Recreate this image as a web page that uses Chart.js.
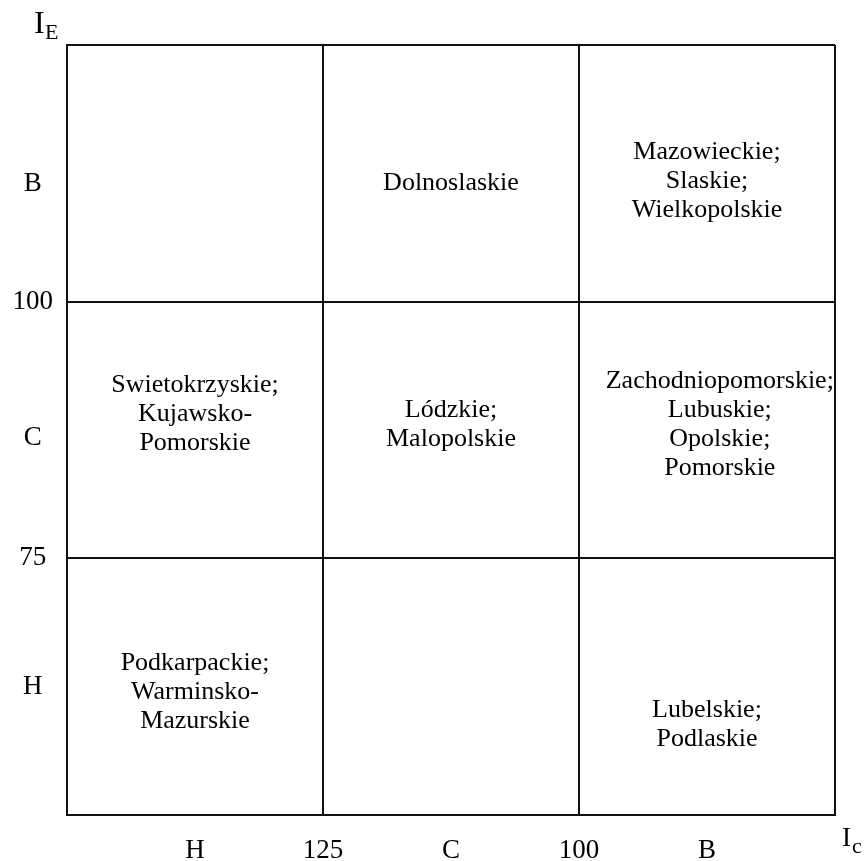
<!DOCTYPE html>
<html>
<head>
<meta charset="utf-8">
<script src="https://cdn.jsdelivr.net/npm/chart.js@4.4.0/dist/chart.umd.min.js"></script>
<style>
  html, body { margin: 0; padding: 0; background: #fff; }
  #wrap { width: 867px; height: 861px; }
</style>
</head>
<body>
<div id="wrap"><canvas id="myChart" width="867" height="861"></canvas></div>
<script>
// matrix bounds (3 x 3 cells)
const xTickValues = [0, 0.5, 1, 1.5, 2, 2.5, 3];
const xTickLabels = ['', 'H', '125', 'C', '100', 'B', ''];
const yTickValues = [0, 0.5, 1, 1.47, 2, 2.46, 3];
const yTickLabels = ['', 'H', '75', 'C', '100', 'B', ''];
const gridValues = [0, 1, 2, 3];

// region groups placed in cells
const cellText = [
  ['Dolnoslaskie'],
  ['Mazowieckie;', 'Slaskie;', 'Wielkopolskie'],
  ['Swietokrzyskie;', 'Kujawsko-', 'Pomorskie'],
  ['Lódzkie;', 'Malopolskie'],
  ['Zachodniopomorskie;', 'Lubuskie;', 'Opolskie;', 'Pomorskie'],
  ['Podkarpackie;', 'Warminsko-', 'Mazurskie'],
  ['Lubelskie;', 'Podlaskie']
];
const cellXs = [1.5, 2.5, 0.5, 1.5, 2.55, 0.5, 2.5];
const cellYs = [2.46, 2.47, 1.56, 1.52, 1.52, 0.48, 0.35];

const serif = '"Liberation Serif", "Times New Roman", serif';

const cellLabels = {
  id: 'cellLabels',
  afterDatasetsDraw(chart) {
    const ctx = chart.ctx;
    const xs = chart.scales.x, ys = chart.scales.y;
    ctx.save();
    ctx.fillStyle = '#000';
    ctx.font = '26px ' + serif;
    ctx.textAlign = 'center';
    ctx.textBaseline = 'middle';
    const lh = 29;
    for (let i = 0; i < cellText.length; i++) {
      const lines = cellText[i];
      const cx = xs.getPixelForValue(cellXs[i]);
      const cy = ys.getPixelForValue(cellYs[i]);
      const y0 = cy - (lines.length - 1) * lh / 2;
      lines.forEach((t, k) => ctx.fillText(t, cx, y0 + k * lh));
    }
    // axis names
    ctx.textAlign = 'left';
    ctx.textBaseline = 'alphabetic';
    ctx.font = '32px ' + serif;
    ctx.fillText('I', 34, 33);
    ctx.font = '22px ' + serif;
    ctx.fillText('E', 45, 39);
    ctx.font = '27px ' + serif;
    ctx.fillText('I', 842, 846);
    ctx.font = '22px ' + serif;
    ctx.fillText('c', 852, 853);
    ctx.restore();
  }
};

const gridColor = c => gridValues.includes(c.tick.value) ? '#111' : 'rgba(0,0,0,0)';

new Chart(document.getElementById('myChart').getContext('2d'), {
  type: 'scatter',
  data: {
    datasets: [{
      data: cellXs.map((x, i) => ({ x: x, y: cellYs[i] })),
      pointRadius: 0,
      pointHoverRadius: 0
    }]
  },
  options: {
    responsive: false,
    animation: false,
    events: [],
    layout: { padding: { left: 0, top: 45, right: 32, bottom: 0 } },
    plugins: { legend: { display: false }, tooltip: { enabled: false } },
    scales: {
      x: {
        type: 'linear',
        min: 0,
        max: 3,
        afterBuildTicks: s => { s.ticks = xTickValues.map(v => ({ value: v })); },
        afterFit: s => { s.height = 46; },
        ticks: {
          callback: (v, i) => xTickLabels[i],
          autoSkip: false,
          maxRotation: 0,
          padding: 20,
          color: '#000',
          font: { family: serif, size: 27 }
        },
        grid: { color: gridColor, lineWidth: 2, drawTicks: false },
        border: { display: true, color: '#111', width: 2 }
      },
      y: {
        type: 'linear',
        min: 0,
        max: 3,
        afterBuildTicks: s => { s.ticks = yTickValues.map(v => ({ value: v })); },
        afterFit: s => { s.width = 67; },
        ticks: {
          callback: (v, i) => yTickLabels[i],
          autoSkip: false,
          crossAlign: 'center',
          padding: 14,
          color: '#000',
          font: { family: serif, size: 27 }
        },
        grid: { color: gridColor, lineWidth: 2, drawTicks: false },
        border: { display: true, color: '#111', width: 2 }
      }
    }
  },
  plugins: [cellLabels]
});
</script>
</body>
</html>
